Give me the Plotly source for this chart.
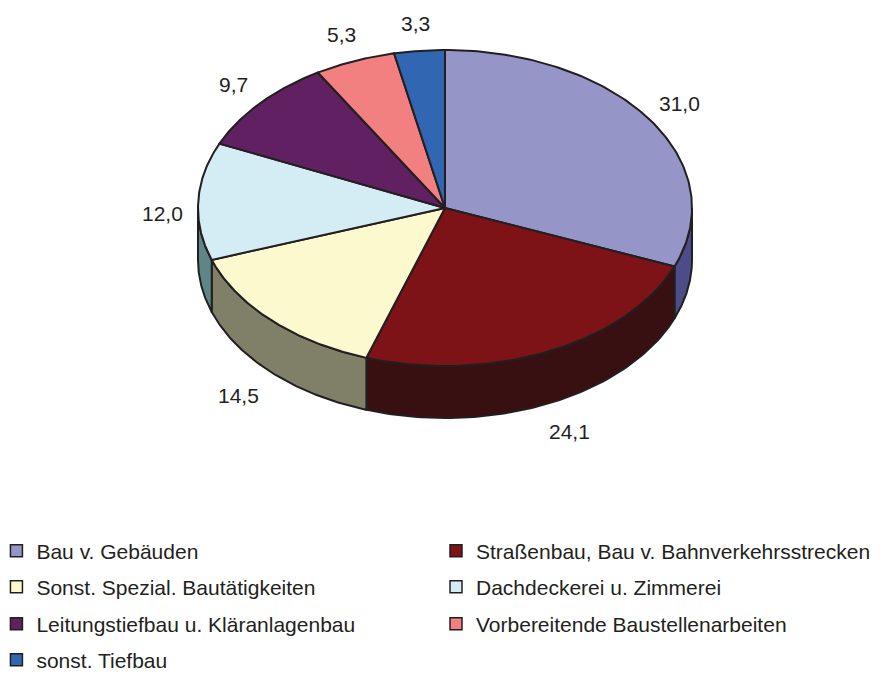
import numpy as np
import plotly.graph_objects as go

# ---- data ----
categories = [
    "Bau v. Gebäuden",
    "Straßenbau, Bau v. Bahnverkehrsstrecken",
    "Sonst. Spezial. Bautätigkeiten",
    "Dachdeckerei u. Zimmerei",
    "Leitungstiefbau u. Kläranlagenbau",
    "Vorbereitende Baustellenarbeiten",
    "sonst. Tiefbau",
]
values = [31.0, 24.1, 14.5, 12.0, 9.7, 5.3, 3.3]
top_colors = ["#9595C8", "#7D1317", "#FDF9CF", "#D4EDF5", "#602062", "#F28080", "#3066B2"]
side_colors = ["#4C4C88", "#381012", "#808068", "#5F8686", "#301031", "#794040", "#183359"]

# ---- geometry (pixel-space axes) ----
W, H = 891, 675
cx, cy = 445, 208
rx, ry = 247, 158
depth = 52
edge = "#231F20"
font_family = "Liberation Sans, Arial, sans-serif"


def ex(t):
    return cx + rx * np.sin(t)


def ey(t):
    return cy - ry * np.cos(t)


total = sum(values)
fracs = np.cumsum([0] + values) / total
angles = 2 * np.pi * fracs

fig = go.Figure()

# sides (front half only: pi/2 .. 3pi/2)
for i in range(len(values)):
    a = max(angles[i], np.pi / 2)
    b = min(angles[i + 1], 3 * np.pi / 2)
    if b <= a:
        continue
    ts = np.linspace(a, b, 80)
    xs = np.concatenate([ex(ts), ex(ts[::-1]), [ex(ts[0])]])
    ys = np.concatenate([ey(ts), ey(ts[::-1]) + depth, [ey(ts[0])]])
    fig.add_trace(go.Scatter(
        x=xs, y=ys, mode="lines", fill="toself",
        fillcolor=side_colors[i], line=dict(color=edge, width=2),
        showlegend=False, hoverinfo="skip"))

# top faces
for i in range(len(values)):
    ts = np.linspace(angles[i], angles[i + 1], 120)
    xs = np.concatenate([[cx], ex(ts), [cx]])
    ys = np.concatenate([[cy], ey(ts), [cy]])
    fig.add_trace(go.Scatter(
        x=xs, y=ys, mode="lines", fill="toself",
        fillcolor=top_colors[i], line=dict(color=edge, width=2),
        showlegend=False, name=categories[i],
        hovertemplate=f"{categories[i]}: {values[i]:.1f}<extra></extra>"))

# data labels
for i, v in enumerate(values):
    t = (angles[i] + angles[i + 1]) / 2
    front = max(0.0, -np.cos(t))
    lx = cx + (rx + 36 + 14 * front) * np.sin(t)
    off = (depth + 3) * float(np.clip(0.3 - 1.2 * np.cos(t), 0, 1))
    ly = cy - (ry + 28) * np.cos(t) + off
    fig.add_annotation(x=lx, y=ly, text=f"{v:.1f}".replace(".", ","),
                       showarrow=False, xanchor="center", yanchor="middle",
                       font=dict(size=21, color=edge, family=font_family))

# legend: one legend box per entry, laid out in two columns
row_y = [551, 587, 624, 660]
col_x = [-0.004, 436 / W]
legend_ids = ["legend"] + [f"legend{k}" for k in range(2, len(categories) + 1)]
layout_legends = {}
for i, c in enumerate(categories):
    lid = legend_ids[i]
    fig.add_trace(go.Scatter(
        x=[None], y=[None], mode="markers", name=c,
        marker=dict(symbol="square", size=12, color=top_colors[i],
                    line=dict(color=edge, width=1.5)),
        legend=lid, showlegend=True))
    layout_legends[lid] = dict(
        x=col_x[i % 2], y=1 - row_y[i // 2] / H,
        xanchor="left", yanchor="middle",
        font=dict(size=21, color=edge, family=font_family),
        bgcolor="rgba(0,0,0,0)", itemclick=False, itemdoubleclick=False)

fig.update_layout(
    width=W, height=H,
    margin=dict(l=0, r=0, t=0, b=0, autoexpand=False),
    paper_bgcolor="white", plot_bgcolor="white",
    xaxis=dict(range=[0, W], visible=False, fixedrange=True),
    yaxis=dict(range=[H, 0], visible=False, fixedrange=True),
    showlegend=True,
    **layout_legends,
)

fig.write_html("out.html", config={"displayModeBar": False},
               post_script="document.body.style.margin='0';")
